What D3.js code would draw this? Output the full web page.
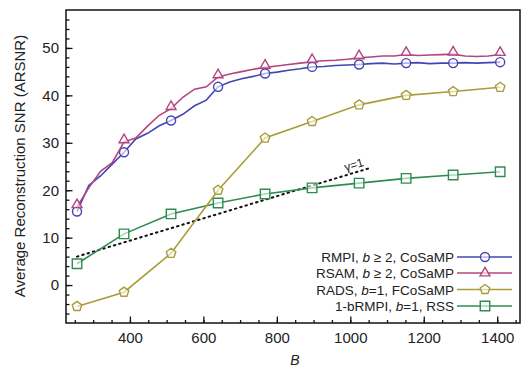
<!DOCTYPE html>
<head>
  <meta charset="utf-8">
  <script src="https://d3js.org/d3.v7.min.js"></script>
  <style type="text/css">
    body { margin:0; background:#fff; }
    text { font-family: "Liberation Sans", Arial, sans-serif; fill:#222; }
    .frame { fill:none; stroke:#111; stroke-width:1.5; }
    .axis path { display:none; }
    .axis line { stroke:#111; stroke-width:1.3; }
    .axis text { font-size:15px; }
    .line { fill:none; stroke-width:1.6; }
    .mark { fill:#fff; fill-opacity:0.6; stroke-width:1.4; }
    .dotted { fill:none; stroke:#111; stroke-width:2; stroke-dasharray:1.5,4; stroke-linecap:round; }
  </style>
</head>

<body>
  <script>
  // dense samples for the two CoSaMP curves (marker every 4th point)
  var denseB = [256, 288, 320, 352, 384, 416, 448, 480, 512, 544, 576, 608, 640,
                672, 704, 736, 768, 800, 832, 864, 896, 928, 960, 992, 1024, 1056,
                1088, 1120, 1152, 1184, 1216, 1248, 1280, 1312, 1344, 1376, 1408];
  var rmpi = [15.5, 21.0, 23.0, 25.5, 28.0, 30.8, 32.0, 33.6, 34.7, 36.0, 37.8, 39.0, 41.8,
              42.8, 43.5, 44.0, 44.6, 44.9, 45.3, 45.6, 46.0, 46.1, 46.3, 46.4, 46.5, 46.7,
              46.8, 46.6, 46.8, 46.9, 46.7, 46.8, 46.8, 46.9, 46.8, 46.9, 47.0];
  var rsam = [16.5, 20.5, 24.0, 25.8, 30.2, 31.0, 33.5, 35.8, 37.2, 39.6, 41.3, 41.8, 43.9,
              44.5, 45.0, 45.5, 45.9, 46.2, 46.5, 46.8, 47.1, 47.3, 47.4, 47.6, 47.9, 48.1,
              48.3, 48.3, 48.6, 48.4, 48.5, 48.6, 48.7, 48.3, 48.2, 48.3, 48.6];

  // coarse samples
  var coarseB = [256, 384, 512, 640, 768, 896, 1024, 1152, 1280, 1408];
  var rads = [-4.5, -1.5, 6.7, 20.0, 31.0, 34.5, 38.0, 40.0, 40.8, 41.7];
  var rss1b = [4.5, 10.8, 15.0, 17.3, 19.2, 20.5, 21.5, 22.5, 23.2, 23.9];

  // gamma = 1 reference line
  var gammaB = [256, 1050];
  var gammaV = [6.0, 24.6];

  var xTicks = [400, 600, 800, 1000, 1200, 1400];
  var yTicks = [0, 10, 20, 30, 40, 50];

  var legendLabels = [
    ["RMPI, ", "b", " \u2265 2, CoSaMP"],
    ["RSAM, ", "b", " \u2265 2, CoSaMP"],
    ["RADS, ", "b", "=1, FCoSaMP"],
    ["1-bRMPI, ", "b", "=1, RSS"]
  ];
  var colors = ["#4444b4", "#b4447e", "#aa9c38", "#2e8c50"];
  var shapes = ["circle", "triangle", "pentagon", "square"];

  var W = 523, H = 369;
  var x = d3.scaleLinear().domain([226, 1462]).range([66, 520]);
  var y = d3.scaleLinear().domain([-8, 58]).range([323, 10]);

  var svg = d3.select("body").append("svg")
    .attr("width", W).attr("height", H);

  // minor ticks
  svg.append("g").attr("class", "axis")
    .attr("transform", "translate(0,323)")
    .call(d3.axisBottom(x).tickValues(d3.range(250, 1451, 50)).tickSize(-3).tickFormat(""));
  svg.append("g").attr("class", "axis")
    .attr("transform", "translate(66,0)")
    .call(d3.axisLeft(y).tickValues(d3.range(-6, 57, 2)).tickSize(-3.5).tickFormat(""));

  // major ticks
  svg.append("g").attr("class", "axis")
    .attr("transform", "translate(0,323)")
    .call(d3.axisBottom(x).tickValues(xTicks).tickSizeInner(-6.5).tickPadding(9)
      .tickFormat(d3.format("d")));
  svg.append("g").attr("class", "axis")
    .attr("transform", "translate(66,0)")
    .call(d3.axisLeft(y).tickValues(yTicks).tickSizeInner(-6.5).tickPadding(7));

  svg.append("rect").attr("class", "frame")
    .attr("x", 66).attr("y", 10).attr("width", 454).attr("height", 313);

  svg.append("text")
    .attr("transform", "translate(25,166) rotate(-90)")
    .attr("text-anchor", "middle")
    .style("font-size", "15px")
    .text("Average Reconstruction SNR (ARSNR)");

  svg.append("text")
    .attr("x", 295).attr("y", 365)
    .attr("text-anchor", "middle")
    .style("font-size", "14px").style("font-style", "italic")
    .text("B");

  // gamma line
  var line = d3.line()
    .x(function(d) { return x(d[0]); })
    .y(function(d) { return y(d[1]); });

  svg.append("path").attr("class", "dotted")
    .attr("d", line(d3.zip(gammaB, gammaV)));

  var gx = x(1013), gy = y(23.7) - 4;
  svg.append("text")
    .attr("transform", "translate(" + gx + "," + gy + ") rotate(-17)")
    .attr("text-anchor", "middle")
    .style("font-size", "12px")
    .text("\u03b3=1");

  function symbol(shape) {
    if (shape == "circle") return d3.symbol(d3.symbolCircle, 64)();
    if (shape == "square") return d3.symbol(d3.symbolSquare, 90)();
    if (shape == "triangle") return d3.symbol(d3.symbolTriangle, 42)();
    // pentagon
    var r = 5, pts = [];
    for (var i = 0; i < 5; i++) {
      var a = -Math.PI / 2 + i * 2 * Math.PI / 5;
      pts.push([r * Math.cos(a), r * Math.sin(a)]);
    }
    return "M" + pts.join("L") + "Z";
  }

  var series = [
    {b: denseB, v: rmpi, step: 4},
    {b: denseB, v: rsam, step: 4},
    {b: coarseB, v: rads, step: 1},
    {b: coarseB, v: rss1b, step: 1}
  ];

  // draw in order so green/gold sit under blue/magenta like the original
  [3, 2, 0, 1].forEach(function(k) {
    var s = series[k];
    var pts = d3.zip(s.b, s.v);
    svg.append("path").attr("class", "line")
      .attr("stroke", colors[k])
      .attr("d", line(pts));
    svg.selectAll(".m" + k)
      .data(pts.filter(function(d, i) { return i % s.step == 0; }))
      .enter().append("path")
      .attr("class", "mark m" + k)
      .attr("stroke", colors[k])
      .attr("transform", function(d) {
        var dy = shapes[k] == "triangle" ? -2 : 0;
        return "translate(" + x(d[0]) + "," + (y(d[1]) + dy) + ")";
      })
      .attr("d", symbol(shapes[k]));
  });

  // legend
  var rowY = [257, 273, 289.5, 306];
  legendLabels.forEach(function(lab, k) {
    var t = svg.append("text")
      .attr("x", 454).attr("y", rowY[k] + 5)
      .attr("text-anchor", "end")
      .style("font-size", "13.5px");
    t.append("tspan").text(lab[0]);
    t.append("tspan").style("font-style", "italic").text(lab[1]);
    t.append("tspan").text(lab[2]);

    svg.append("line")
      .attr("x1", 457).attr("x2", 512)
      .attr("y1", rowY[k]).attr("y2", rowY[k])
      .attr("stroke", colors[k]).attr("stroke-width", 1.6);
    svg.append("path").attr("class", "mark")
      .attr("stroke", colors[k])
      .attr("transform", "translate(485," + rowY[k] + ")")
      .attr("d", symbol(shapes[k]));
  });
  </script>
</body>
